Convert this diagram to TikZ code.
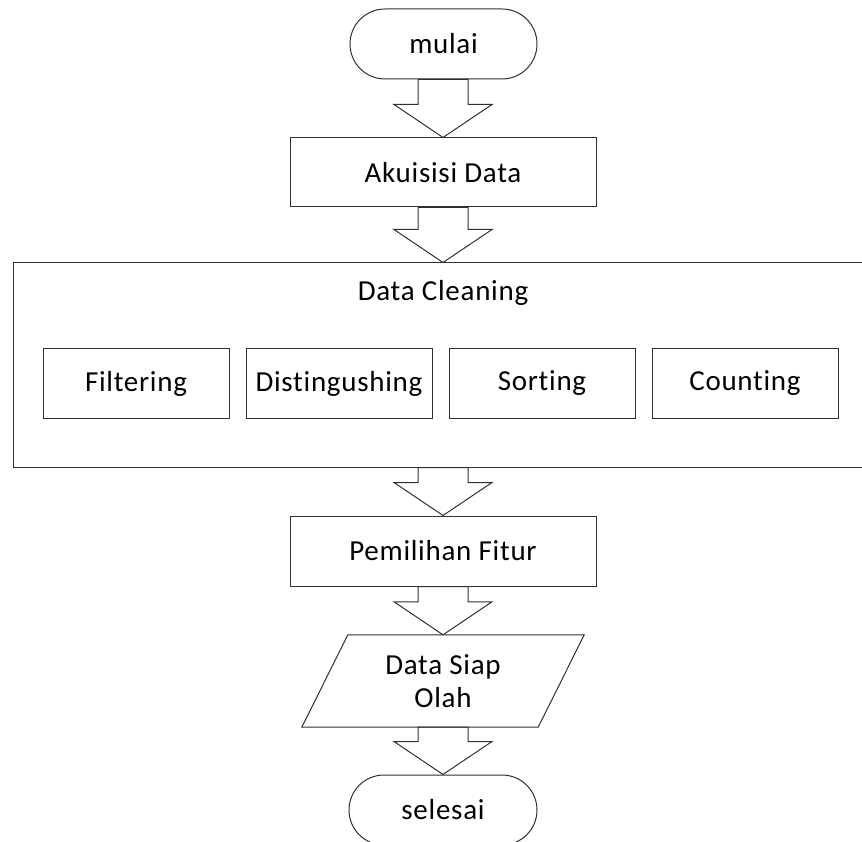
\documentclass[tikz,border=0pt]{standalone}
\usepackage{fontspec}
\setmainfont{Carlito}[LetterSpace=2.5, Ligatures=NoCommon]
\usetikzlibrary{calc}
\definecolor{linec}{HTML}{303030}
\tikzset{
  every node/.style={font=\fontsize{29}{33}\selectfont, inner sep=0pt},
  stadium/.style={draw=linec, line width=1pt, rounded corners=35pt,
    minimum width=187pt, minimum height=70pt},
  procbox/.style={draw=linec, line width=1pt, minimum width=306pt, minimum height=69pt},
  subbox/.style={draw=linec, line width=1pt, minimum width=186pt, minimum height=70pt},
  groupbox/.style={draw=linec, line width=1pt, minimum width=886pt, minimum height=204pt},
  blockarrow/.style={draw=linec, line width=1pt, line join=miter}
}
% hollow block arrow from the bottom of #2 to the top of #3, centred on #1
\newcommand{\flowarrow}[3]{%
  \draw[blockarrow] let \p1=(#1), \p2=(#2.south), \p3=(#3.north) in
    (\x1-25pt,\y2) -- (\x1+25pt,\y2) -- (\x1+25pt,\y3+33pt) -- (\x1+49pt,\y3+33pt)
    -- (\x1,\y3) -- (\x1-49pt,\y3+33pt) -- (\x1-25pt,\y3+33pt) -- cycle;}
\begin{document}
\begin{tikzpicture}[x=1pt, y=-1pt]
  \path[use as bounding box] (0,0) rectangle (862,842);
  \clip (0,0) rectangle (862,842);

  \node[stadium] (mulai) at (443.5,44) {mulai};
  \node[procbox] (akuisisi) at (443,172.5) {Akuisisi Data};

  \node[groupbox] (clean) at (456,365) {};
  \node (cleanlbl) at (443,293) {Data Cleaning};
  \node[subbox] (filter) at (136,383.5) {Filtering};
  \node[subbox] (dist) at (339,383.5) {Distingushing};
  \node[subbox] (sort) at (542,383.5) {Sorting};
  \node[subbox] (count) at (745,383.5) {Counting};

  \node[procbox, minimum height=70pt] (fitur) at (443,551) {Pemilihan Fitur};

  \node[minimum width=236pt, minimum height=92pt, align=center] (olah) at (443,681)
    {Data Siap\\Olah};
  \draw[blockarrow] ($(olah.north west)+(23,0)$) -- ($(olah.north east)+(23,0)$)
    -- ($(olah.south east)+(-23,0)$) -- ($(olah.south west)+(-23,0)$) -- cycle;

  \node[stadium, minimum width=188pt] (selesai) at (443,810) {selesai};

  \flowarrow{akuisisi}{mulai}{akuisisi}
  \flowarrow{akuisisi}{akuisisi}{clean}
  \flowarrow{fitur}{clean}{fitur}
  \flowarrow{fitur}{fitur}{olah}
  \flowarrow{fitur}{olah}{selesai}
\end{tikzpicture}
\end{document}
